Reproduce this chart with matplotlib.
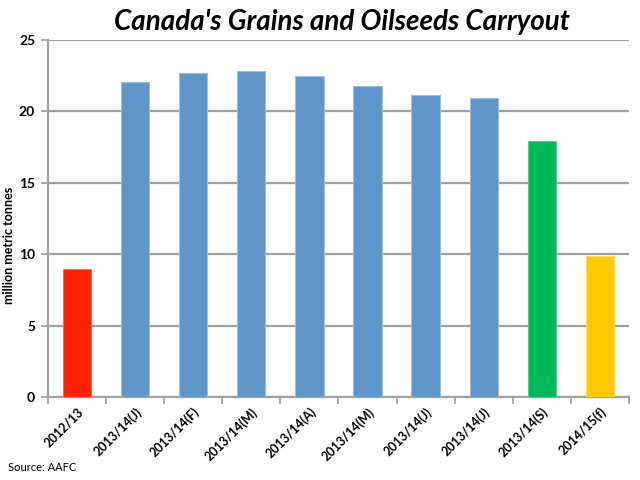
import numpy as np
import matplotlib
matplotlib.use("Agg")
import matplotlib.pyplot as plt
from matplotlib.ticker import FixedLocator, NullFormatter

# carryout estimates, million metric tonnes
periods = ['2012/13', '2013/14(J)', '2013/14(F)', '2013/14(M)', '2013/14(A)',
           '2013/14(M)', '2013/14(J)', '2013/14(J)', '2013/14(S)', '2014/15(f)']
carryout = [8.95, 22.06, 22.69, 22.83, 22.48, 21.78, 21.17, 20.94, 17.9, 9.85]
bar_colors = ['#ff2200'] + ['#5f95c9'] * 7 + ['#00b85c', '#ffc800']
edge_colors = ['#ff6a50'] + ['#9dbde0'] * 7 + ['#50d090', '#ffdc60']

plt.rcParams['font.family'] = ['Lato', 'DejaVu Sans']

fig = plt.figure(figsize=(6.4, 4.8), dpi=100)
ax = fig.add_axes([0.0745, 0.173, 0.9085, 0.7437])

x = np.arange(len(periods))
ax.bar(x, carryout, width=0.49, color=bar_colors, edgecolor=edge_colors,
       linewidth=0.8, zorder=3)

ax.set_xlim(-0.5, len(periods) - 0.5)
ax.set_ylim(0, 25)
ax.set_yticks([0, 5, 10, 15, 20, 25])
ax.yaxis.grid(True, color='#a0a0a0', linewidth=1.6, zorder=0)

# ticks between categories, labels at the centres
ax.xaxis.set_major_locator(FixedLocator(np.arange(-0.5, len(periods), 1.0)))
ax.xaxis.set_major_formatter(NullFormatter())
ax.xaxis.set_minor_locator(FixedLocator(x))
ax.set_xticklabels(periods, minor=True, rotation=45, ha='right',
                   rotation_mode='anchor', fontsize=9, fontweight='bold')
ax.tick_params(axis='x', which='major', length=5, width=1.2, color='#a0a0a0')
ax.tick_params(axis='x', which='minor', length=0, pad=6)
ax.tick_params(axis='y', length=5, width=1.2, color='#a0a0a0', labelsize=10, pad=4)
for lab in ax.get_yticklabels():
    lab.set_fontweight('bold')

for s in ['top', 'right']:
    ax.spines[s].set_visible(False)
for s in ['left', 'bottom']:
    ax.spines[s].set_color('#a0a0a0')
    ax.spines[s].set_linewidth(1.6)

ax.set_ylabel('million metric tonnes', fontsize=9, fontweight='bold')
ax.yaxis.set_label_coords(-0.056, 0.426)

fig.text(0.535, 0.955, "Canada's Grains and Oilseeds Carryout", ha='center', va='center',
         fontsize=20, fontweight='bold', fontstyle='italic')
fig.text(0.012, 0.027, 'Source: AAFC', fontsize=8, ha='left', va='center')

fig.savefig('out.png', dpi=100)
